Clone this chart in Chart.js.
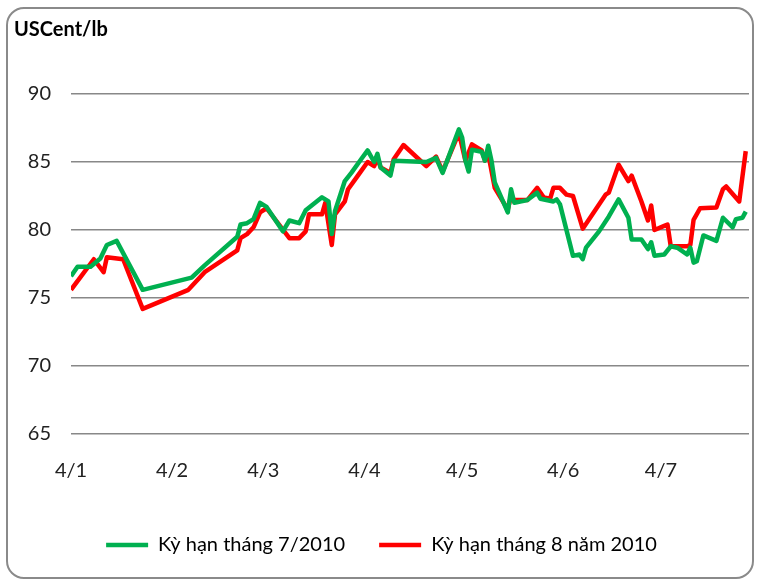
<!DOCTYPE html>
<html>
<head>
<meta charset="utf-8">
<script src="https://cdn.jsdelivr.net/npm/chart.js@4"></script>
<style>
  body { margin: 0; background: #fff; }
  #wrap { position: relative; width: 761px; height: 579px; }
  #frame {
    position: absolute; left: 6px; top: 7px; width: 748px; height: 572px;
    border: 2px solid #8a8a8a; border-radius: 18px; box-sizing: border-box;
    pointer-events: none;
  }
  canvas { position: absolute; left: 0; top: 0; }
</style>
</head>
<body>
<div id="wrap">
  <canvas id="line-chart" width="761" height="579"></canvas>
  <div id="frame"></div>
</div>
<script>
// days counted from 4/1/2010
const tickDays = [0, 31, 59, 90, 120, 151, 181];
const tickLabels = ["4/1", "4/2", "4/3", "4/4", "4/5", "4/6", "4/7"];

const julDays = [0, 2, 6, 9, 11, 14, 22, 37, 41, 51, 52, 54, 56, 58, 60, 65, 67, 70, 72, 77, 79, 80, 81, 84, 86, 89, 91, 93, 94, 95, 98, 99, 109, 112, 114, 119, 120, 121, 122, 123, 126, 127, 128, 129, 130, 134, 135, 136, 140, 143, 144, 148, 149, 150, 154, 156, 157, 158, 162, 165, 168, 171, 172, 175, 177, 178, 179, 182, 184, 186, 189, 190, 191, 192, 194, 198, 200, 203, 204, 206, 207];
const julValues = [76.6, 77.3, 77.3, 77.9, 78.9, 79.2, 75.6, 76.5, 77.4, 79.5, 80.4, 80.5, 80.8, 82.0, 81.7, 79.9, 80.7, 80.5, 81.45, 82.4, 82.1, 79.7, 81.4, 83.6, 84.2, 85.2, 85.85, 85.0, 85.6, 84.6, 84.0, 85.1, 85.0, 85.3, 84.2, 87.4, 86.8, 85.1, 84.3, 85.9, 85.75, 85.1, 86.2, 85.1, 83.5, 81.3, 83.0, 82.0, 82.2, 82.75, 82.3, 82.1, 82.25, 81.9, 78.1, 78.2, 77.85, 78.7, 79.9, 81.0, 82.25, 80.9, 79.3, 79.3, 78.6, 79.1, 78.1, 78.2, 78.8, 78.7, 78.2, 78.7, 77.6, 77.7, 79.6, 79.2, 80.9, 80.2, 80.8, 80.9, 81.35];

const augDays = [0, 7, 10, 11, 16, 22, 36, 41, 51, 52, 54, 56, 58, 60, 67, 70, 72, 73, 77, 78, 80, 81, 84, 85, 88, 91, 93, 94, 95, 98, 99, 102, 109, 112, 114, 119, 121, 123, 126, 127, 128, 130, 134, 135, 136, 140, 143, 145, 147, 148, 150, 152, 154, 157, 164, 165, 168, 171, 172, 175, 177, 178, 179, 182, 183, 184, 189, 190, 191, 193, 198, 200, 201, 205, 207];
const augValues = [75.6, 77.85, 76.9, 78.0, 77.85, 74.2, 75.6, 76.9, 78.5, 79.4, 79.7, 80.2, 81.3, 81.6, 79.4, 79.4, 79.9, 81.15, 81.15, 82.0, 78.9, 81.15, 82.1, 83.0, 84.0, 85.0, 84.7, 85.3, 84.6, 84.2, 85.2, 86.25, 84.7, 85.4, 84.3, 87.15, 85.1, 86.3, 85.85, 85.1, 85.6, 83.1, 81.5, 82.5, 82.2, 82.2, 83.1, 82.4, 82.3, 83.1, 83.1, 82.6, 82.5, 80.1, 82.6, 82.75, 84.8, 83.6, 84.0, 82.1, 80.7, 81.8, 80.0, 80.3, 80.4, 78.8, 78.8, 78.9, 80.75, 81.6, 81.65, 83.0, 83.2, 82.1, 85.8];

const pts = (xs, ys) => xs.map((d, i) => ({ x: d, y: ys[i] }));

const ctx = document.getElementById("line-chart").getContext("2d");
Chart.defaults.font.family = "Lato, 'Open Sans', sans-serif";
Chart.defaults.color = "#222";

new Chart(ctx, {
  type: "line",
  data: {
    datasets: [
      {
        label: "Kỳ hạn tháng 7/2010",
        data: pts(julDays, julValues),
        borderColor: "#00b050",
        backgroundColor: "#00b050",
        borderWidth: 4.5,
        pointRadius: 0,
        tension: 0,
        borderJoinStyle: "round",
      },
      {
        label: "Kỳ hạn tháng 8 năm 2010",
        data: pts(augDays, augValues),
        borderColor: "#ff0000",
        backgroundColor: "#ff0000",
        borderWidth: 4.5,
        pointRadius: 0,
        tension: 0,
        borderJoinStyle: "round",
      },
    ],
  },
  options: {
    responsive: false,
    animation: false,
    layout: { padding: { left: 14, right: 12, top: 14, bottom: 14 } },
    plugins: {
      title: {
        display: true,
        text: "USCent/lb",
        align: "start",
        color: "#000",
        font: { size: 20, weight: "bold" },
        padding: { top: 4, bottom: 52 },
      },
      legend: {
        position: "bottom",
        labels: {
          usePointStyle: true,
          pointStyle: "line",
          pointStyleWidth: 42,
          boxHeight: 20,
          padding: 34,
          color: "#000",
          font: { size: 20 },
        },
      },
      tooltip: { enabled: false },
    },
    scales: {
      x: {
        type: "linear",
        min: 0,
        max: 208,
        grid: { display: false },
        border: { display: false },
        afterBuildTicks: (scale) => {
          scale.ticks = tickDays.map((v) => ({ value: v }));
        },
        afterFit: (scale) => {
          scale.height += 1;
        },
        ticks: {
          autoSkip: false,
          maxRotation: 0,
          padding: 17,
          font: { size: 20 },
          callback: (v) => tickLabels[tickDays.indexOf(v)],
        },
      },
      y: {
        min: 65,
        max: 90,
        grid: { color: "#888", lineWidth: 1.5, drawTicks: false },
        border: { display: false },
        afterFit: (scale) => {
          scale.width = 57;
        },
        ticks: {
          stepSize: 5,
          padding: 20,
          font: { size: 20 },
        },
      },
    },
  },
});
</script>
</body>
</html>
